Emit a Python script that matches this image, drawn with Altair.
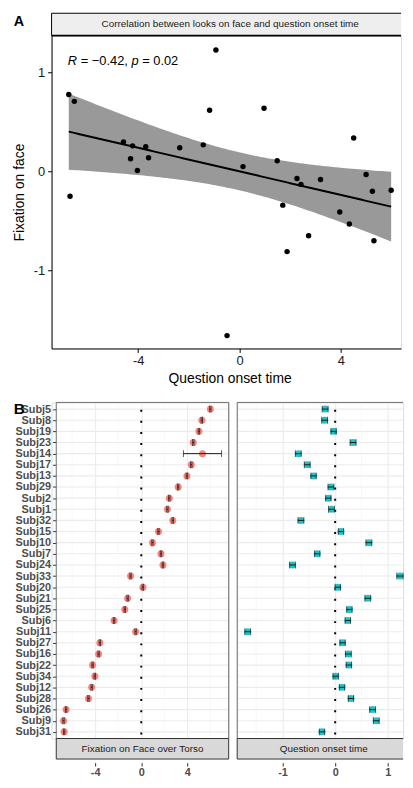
import altair as alt
import numpy as np
import pandas as pd

# ---------------- data ----------------
SUBJECTS = ["Subj5", "Subj8", "Subj19", "Subj23", "Subj14", "Subj17", "Subj13", "Subj29",
            "Subj2", "Subj1", "Subj32", "Subj15", "Subj10", "Subj7", "Subj24", "Subj33",
            "Subj20", "Subj21", "Subj25", "Subj6", "Subj11", "Subj27", "Subj16", "Subj22",
            "Subj34", "Subj12", "Subj28", "Subj26", "Subj9", "Subj31"]
FACE_TORSO = [5.99, 5.25, 5.00, 4.51, 5.31, 4.34, 3.96, 3.20,
              2.43, 2.27, 2.73, 1.49, 0.97, 1.71, 1.88, -0.93,
              0.14, -1.18, -1.43, -2.36, -0.49, -3.59, -3.70, -4.22,
              -4.03, -4.30, -4.58, -6.52, -6.74, -6.69]
FACE_TORSO_SE = [0.06, 0.06, 0.06, 0.06, 1.65, 0.06, 0.06, 0.06,
                 0.06, 0.06, 0.06, 0.06, 0.06, 0.06, 0.06, 0.06,
                 0.06, 0.06, 0.06, 0.06, 0.06, 0.06, 0.06, 0.06,
                 0.06, 0.06, 0.06, 0.06, 0.06, 0.06]
ONSET = [-0.19, -0.20, -0.03, 0.34, -0.70, -0.53, -0.41, -0.08,
         -0.13, -0.07, -0.65, 0.11, 0.64, -0.34, -0.81, 1.23,
         0.05, 0.62, 0.27, 0.24, -1.66, 0.14, 0.25, 0.26,
         0.01, 0.13, 0.30, 0.71, 0.78, -0.25]
ONSET_SE = [0.055, 0.055, 0.05, 0.055, 0.055, 0.055, 0.05, 0.055,
            0.05, 0.055, 0.055, 0.05, 0.055, 0.05, 0.055, 0.06,
            0.05, 0.055, 0.05, 0.05, 0.055, 0.05, 0.055, 0.05,
            0.05, 0.05, 0.05, 0.055, 0.055, 0.05]

TOP_X_TICKS = [-4, 0, 4]
TOP_Y_TICKS = [-1, 0, 1]
LEFT_TICKS = [-4, 0, 4]
LEFT_MINOR = [-6, -2, 2, 6]
RIGHT_TICKS = [-1, 0, 1]
RIGHT_MINOR = [-1.5, -0.5, 0.5]
REF_LINE = [0]

FONT = "Liberation Sans"

df = pd.DataFrame({"subject": SUBJECTS, "face": FACE_TORSO, "face_se": FACE_TORSO_SE,
                   "onset": ONSET, "onset_se": ONSET_SE})
df["face_lo"] = df["face"] - df["face_se"]
df["face_hi"] = df["face"] + df["face_se"]
df["onset_lo"] = df["onset"] - df["onset_se"]
df["onset_hi"] = df["onset"] + df["onset_se"]

# linear fit with 95% confidence band (as geom_smooth(method = "lm"))
xv = df["face"].to_numpy()
yv = df["onset"].to_numpy()
n = len(xv)
slope, intercept = np.polyfit(xv, yv, 1)
xg = np.linspace(xv.min(), xv.max(), 100)
fit = intercept + slope * xg
resid = yv - (intercept + slope * xv)
s = np.sqrt(np.sum(resid ** 2) / (n - 2))
sxx = np.sum((xv - xv.mean()) ** 2)
se = s * np.sqrt(1.0 / n + (xg - xv.mean()) ** 2 / sxx)
T975 = 2.048
band = pd.DataFrame({"x": xg, "fit": fit, "lo": fit - T975 * se, "hi": fit + T975 * se})

one = pd.DataFrame({"k": [0]})


def vrule(x, y1, y2, color, w):
    return alt.Chart(one).mark_rule(color=color, strokeWidth=w).encode(
        x=alt.value(x), x2=alt.value(x), y=alt.value(y1), y2=alt.value(y2))


def hrule(x1, x2, y, color, w):
    return alt.Chart(one).mark_rule(color=color, strokeWidth=w).encode(
        x=alt.value(x1), x2=alt.value(x2), y=alt.value(y), y2=alt.value(y))


ANCHOR_X = -41.5
LABEL_X = -38.3

# ---------------- panel A ----------------
W1, H1 = 353.0, 316
STRIP_A = 22.6
xs1 = alt.Scale(domain=[-7.42, 6.38], nice=False, zero=False)
ys1 = alt.Scale(domain=[-1.79, 1.375], nice=False, zero=False)
ax_x1 = alt.Axis(values=TOP_X_TICKS, labelExpr="datum.value + ''", title="Question onset time",
                 grid=False, domainColor="black", domainWidth=1, tickColor="black", tickWidth=1,
                 tickSize=4, labelFontSize=13, labelColor="#1A1A1A", labelPadding=2,
                 labelFont=FONT, titleFont=FONT, titleFontSize=14, titleFontWeight="normal",
                 titleColor="black", titlePadding=4, titleX=179.8)
ax_y1 = alt.Axis(values=TOP_Y_TICKS, labelExpr="datum.value + ''", title="Fixation on face",
                 grid=False, domainColor="black", domainWidth=1, tickColor="black", tickWidth=1,
                 tickSize=4, labelFontSize=13, labelColor="#1A1A1A", labelPadding=3,
                 labelFont=FONT, titleFont=FONT, titleFontSize=14, titleFontWeight="normal",
                 titleColor="black", titlePadding=6.5)

anchor_a = vrule(ANCHOR_X, 0, 1, "white", 1)
strip_a = alt.Chart(one).mark_rect(fill="#EEEEEE").encode(
    x=alt.value(0), x2=alt.value(W1), y=alt.value(-STRIP_A), y2=alt.value(0))
strip_a_lines = [hrule(0, W1, -STRIP_A, "black", 1), hrule(0, W1, 0, "black", 1.6),
                 vrule(0, -STRIP_A, 0, "black", 1)]
strip_a_txt = alt.Chart(one).mark_text(text="Correlation between looks on face and question onset time",
                                       fontSize=10, color="#1A1A1A", font=FONT, baseline="middle",
                                       align="center").encode(x=alt.value(180.4), y=alt.value(-STRIP_A / 2))
band_l = alt.Chart(band).mark_area(color="#999999", opacity=1).encode(
    x=alt.X("x:Q", scale=xs1, axis=ax_x1), y=alt.Y("lo:Q", scale=ys1, axis=ax_y1), y2="hi:Q")
line_l = alt.Chart(band).mark_line(color="black", strokeWidth=2).encode(
    x=alt.X("x:Q", scale=xs1, axis=ax_x1), y=alt.Y("fit:Q", scale=ys1, axis=ax_y1))
pts_l = alt.Chart(df).mark_circle(size=30, color="black", opacity=1).encode(
    x=alt.X("face:Q", scale=xs1, axis=ax_x1), y=alt.Y("onset:Q", scale=ys1, axis=ax_y1))


def txt(t, xpos, italic=False):
    return alt.Chart(one).mark_text(text=t, fontSize=13, color="black", font=FONT,
                                    fontStyle="italic" if italic else "normal",
                                    align="left", baseline="alphabetic").encode(
        x=alt.value(xpos), y=alt.value(30.0))


r_txt = [txt("R", 16.4, True), txt("= \u22120.42,", 29.4), txt("p", 80.7, True), txt("= 0.02", 91.5)]
lab_a = alt.Chart(one).mark_text(text="A", fontSize=14.5, fontWeight="bold", color="black", font=FONT,
                                 align="left", baseline="alphabetic").encode(
    x=alt.value(LABEL_X), y=alt.value(-10.1))

top = alt.layer(anchor_a, band_l, line_l, pts_l, strip_a, *strip_a_lines, strip_a_txt,
                *r_txt, lab_a).properties(width=W1, height=H1)

# ---------------- panel B ----------------
H2 = 339.5
STRIP_H = 20.7
GRID = "#EBEBEB"
BORDER = "#6E6E6E"


def panel(val, lo, hi, domain, ticks, minor, color, width, x0, strip_label, strip_cx, left):
    xs = alt.Scale(domain=domain, nice=False, zero=False)
    ys = alt.Scale(type="point", padding=0.6)
    ax_x = alt.Axis(values=ticks, labelExpr="datum.value + ''", title=None, grid=True,
                    gridColor=GRID, gridWidth=1.1, domain=False, tickColor="#333333",
                    tickSize=3.5, labelFontSize=11, labelFontWeight="bold", labelColor="#4D4D4D",
                    labelPadding=1, offset=24.3, labelFont=FONT)
    if left:
        ax_y = alt.Axis(title=None, grid=False, domain=False, offset=-x0,
                        tickColor="#333333", tickSize=3.7, labelFontSize=11, labelFontWeight="bold",
                        labelColor="#4D4D4D", labelPadding=2, labelFont=FONT)
    else:
        ax_y = alt.Axis(title=None, grid=False, domain=False, ticks=False, labels=False)
    Y = alt.Y("subject:N", sort=SUBJECTS, scale=ys, axis=ax_y)

    rows = alt.Chart(df).mark_rule(color=GRID, strokeWidth=1.1).encode(
        y=Y, x=alt.value(x0), x2=alt.value(width))
    minor_l = alt.Chart(pd.DataFrame({"v": minor})).mark_rule(color="#F3F3F3", strokeWidth=0.6).encode(
        x=alt.X("v:Q", scale=xs, axis=ax_x))
    zero_l = alt.Chart(pd.DataFrame({"v": REF_LINE})).mark_rule(
        color="black", strokeWidth=2, strokeDash=[2, 9.24], strokeDashOffset=3.9).encode(
        x=alt.X("v:Q", scale=xs, axis=ax_x))
    pts = alt.Chart(df).mark_circle(size=50, color=color, opacity=0.9).encode(
        x=alt.X(val + ":Q", scale=xs, axis=ax_x), y=Y)
    bar = alt.Chart(df).mark_rule(color="#1A1A1A", strokeWidth=1).encode(
        x=alt.X(lo + ":Q", scale=xs, axis=ax_x), x2=alt.X2(hi), y=Y)
    cap_lo = alt.Chart(df).mark_tick(orient="vertical", size=7, thickness=1, color="#1A1A1A").encode(
        x=alt.X(lo + ":Q", scale=xs, axis=ax_x), y=Y)
    cap_hi = alt.Chart(df).mark_tick(orient="vertical", size=7, thickness=1, color="#1A1A1A").encode(
        x=alt.X(hi + ":Q", scale=xs, axis=ax_x), y=Y)
    strip = alt.Chart(one).mark_rect(fill="#D9D9D9").encode(
        x=alt.value(x0), x2=alt.value(width), y=alt.value(H2), y2=alt.value(H2 + STRIP_H))
    frame = [hrule(x0, width, 0, BORDER, 1), vrule(x0, 0, H2, BORDER, 1),
             hrule(x0, width, H2, "#333333", 1.1), hrule(x0, width, H2 + STRIP_H, "#333333", 1),
             vrule(x0, H2, H2 + STRIP_H, "#333333", 1)]
    if left:
        frame += [vrule(width, 0, H2, BORDER, 1), vrule(width, H2, H2 + STRIP_H, "#333333", 1)]
    strip_t = alt.Chart(one).mark_text(text=strip_label, fontSize=10, color="#1A1A1A", font=FONT,
                                       align="center", baseline="middle").encode(
        x=alt.value(strip_cx), y=alt.value(H2 + STRIP_H / 2))
    layers = [rows, minor_l, zero_l, pts, bar, cap_lo, cap_hi, strip] + frame + [strip_t]
    if left:
        lab_b = alt.Chart(one).mark_text(text="B", fontSize=15.5, fontWeight="bold", color="black",
                                         font=FONT, align="left", baseline="top").encode(
            x=alt.value(LABEL_X), y=alt.value(0))
        layers = [vrule(ANCHOR_X, 0, 1, "white", 1)] + layers + [lab_b]
    return alt.layer(*layers).properties(width=width, height=H2)


LX0 = 4.75
LW = 178.9
left_p = panel("face", "face_lo", "face_hi", [-7.37 - LX0 * 14.95 / (LW - LX0), 7.58], LEFT_TICKS,
               LEFT_MINOR, "#F8766D", LW, LX0, "Fixation on Face over Torso", 91.8, True)
RW = 167.6
right_p = panel("onset", "onset_lo", "onset_hi", [-1.86, 1.29], RIGHT_TICKS, RIGHT_MINOR,
                "#00BFC4", RW, 0, "Question onset time", 87.4, False)

bottom = alt.hconcat(left_p, right_p, spacing=5.5)

chart = alt.vconcat(top, bottom, spacing=14.5).properties(
    padding={"left": 1, "top": 0, "right": 0, "bottom": 0}
).configure_view(strokeWidth=0).configure(font=FONT)

chart.save("out.html", embed_options={"renderer": "svg", "actions": False})
